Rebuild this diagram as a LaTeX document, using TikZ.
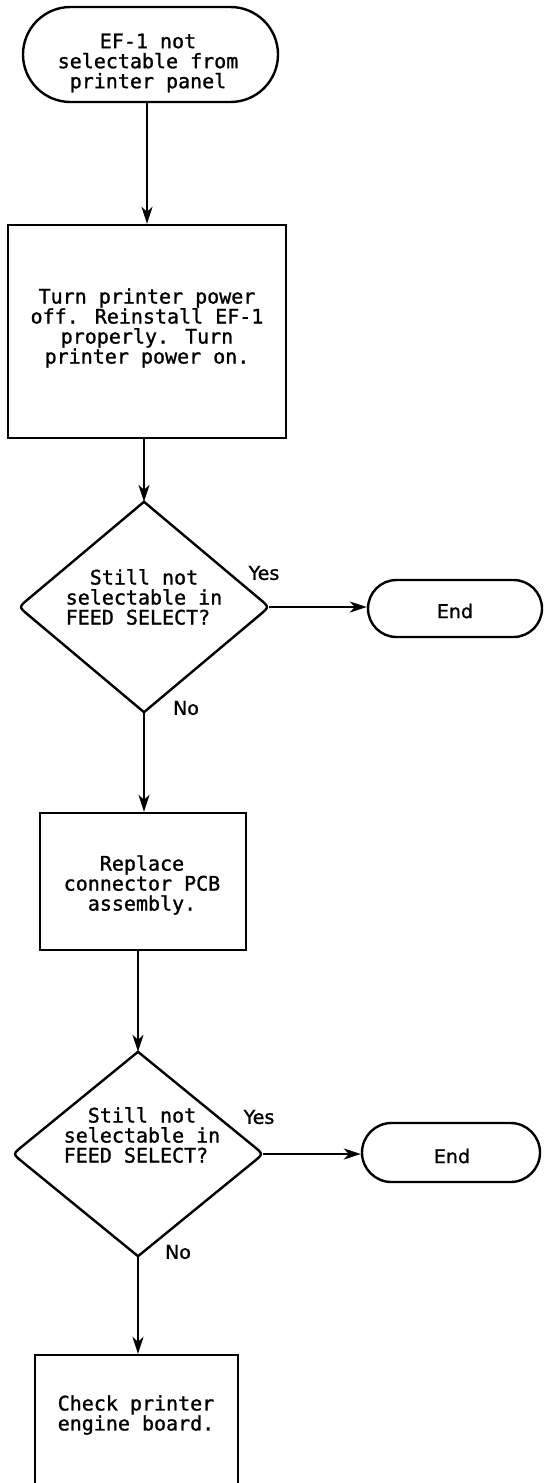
\documentclass[tikz,border=0pt]{standalone}
\usepackage{fontspec}
\newfontfamily\flowfont[FakeBold=1.2]{DejaVu Sans Mono}
\newfontfamily\labelfont[FakeBold=1.2]{DejaVu Sans}
\usetikzlibrary{shapes.misc,shapes.geometric,arrows.meta,calc}

\begin{document}
\begin{tikzpicture}[x=1pt,y=-1pt,
  every node/.style={inner sep=0pt},
  shapeline/.style={draw, line width=2.4pt},
  terminal/.style={shapeline, rounded rectangle},
  procbox/.style={shapeline, rectangle},
  decision/.style={diamond},
  txt/.style={font=\flowfont\fontsize{20}{20}\selectfont, align=center},
  lbl/.style={font=\labelfont\fontsize{19}{19}\selectfont},
  flow/.style={line width=2pt, -{Stealth[length=17pt,width=11pt,inset=5pt]}}]

\useasboundingbox (0,0) rectangle (544,1483);
\clip (0,0) rectangle (544,1483);

% start terminal
\node[terminal, minimum width=255pt, minimum height=95pt] (start) at (150.5,54.5) {};
\node[txt] (starttxt) at (148,63) {EF-1 not\\selectable from\\printer panel};

% reinstall step
\node[procbox, minimum width=278pt, minimum height=213pt] (box1) at (147,331.5) {};
\node[txt] (box1txt) at (147,328) {Turn printer power\\off. Reinstall EF-1\\properly. Turn\\printer power on.};

% first decision
\node[decision, minimum width=250pt, minimum height=210pt] (d1) at (144,607) {};
\draw[line width=2.4pt] (d1.north) -- ($(d1.east)!12pt!(d1.north)$)
  .. controls (d1.east) .. ($(d1.east)!12pt!(d1.south)$) -- (d1.south)
  -- ($(d1.west)!12pt!(d1.south)$)
  .. controls (d1.west) .. ($(d1.west)!12pt!(d1.north)$) -- cycle;
\node[txt, align=left] (d1txt) at (144,597) {\hphantom{xx}Still not\\selectable in\\FEED SELECT?};

\node[terminal, minimum width=174pt, minimum height=57pt] (end1) at (455,608.5) {};
\node[lbl] (end1txt) at (455,611) {End};
\node[lbl] (yes1) at (264,573) {Yes};
\node[lbl] (no1) at (186,708) {No};

% replace step
\node[procbox, minimum width=206pt, minimum height=137pt] (box2) at (143,881.5) {};
\node[txt] (box2txt) at (142,885) {Replace\\connector PCB\\assembly.};

% second decision
\node[decision, minimum width=250pt, minimum height=204pt] (d2) at (138,1154) {};
\draw[line width=2.4pt] (d2.north) -- ($(d2.east)!12pt!(d2.north)$)
  .. controls (d2.east) .. ($(d2.east)!12pt!(d2.south)$) -- (d2.south)
  -- ($(d2.west)!12pt!(d2.south)$)
  .. controls (d2.west) .. ($(d2.west)!12pt!(d2.north)$) -- cycle;
\node[txt, align=left] (d2txt) at (142,1135) {\hphantom{xx}Still not\\selectable in\\FEED SELECT?};

\node[terminal, minimum width=178pt, minimum height=59pt] (end2) at (451,1152.5) {};
\node[lbl] (end2txt) at (452,1156) {End};
\node[lbl] (yes2) at (259,1117) {Yes};
\node[lbl] (no2) at (178,1252) {No};

% final step
\node[procbox, minimum width=203pt, minimum height=150pt] (box3) at (136.5,1430) {};
\node[txt] (box3txt) at (136,1415) {Check printer\\engine board.};

% connectors
\draw[flow] (start.south -| box1.north) -- (box1.north);
\draw[flow] (box1.south -| d1.north) -- (d1.north);
\draw[flow] (d1.east) -- (d1.east -| end1.west);
\draw[flow] (d1.south) -- (d1.south |- box2.north);
\draw[flow] (box2.south -| d2.north) -- (d2.north);
\draw[flow] (d2.east) -- (d2.east -| end2.west);
\draw[flow] (d2.south) -- (d2.south |- box3.north);
\end{tikzpicture}
\end{document}
